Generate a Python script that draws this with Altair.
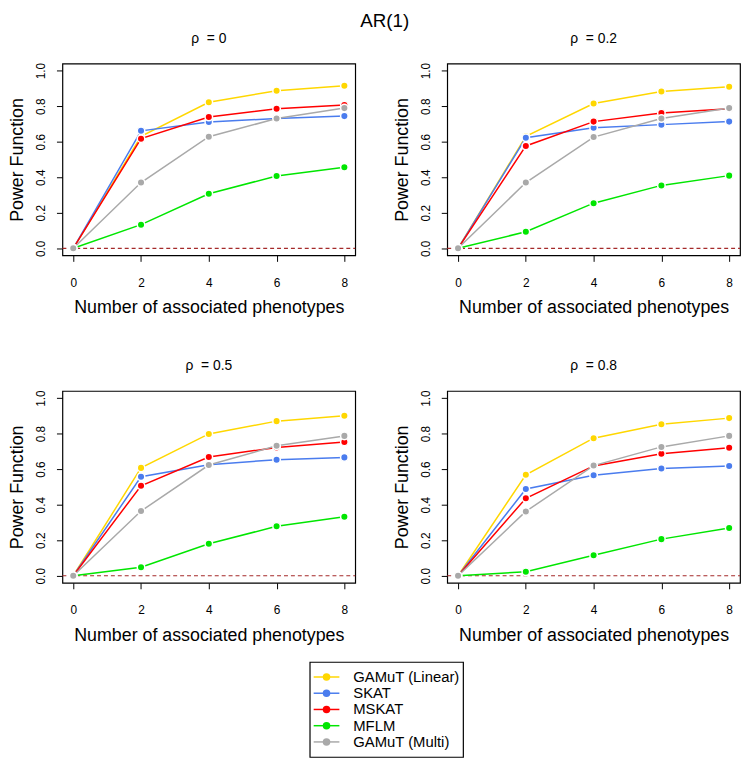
import altair as alt
import pandas as pd

FONT = "Liberation Sans"

series = ["GAMuT (Linear)", "SKAT", "MSKAT", "MFLM", "GAMuT (Multi)"]
colors = ["#FFD700", "#4A7CEE", "#FF0000", "#00E600", "#A9A9A9"]
x_vals = [0, 2, 4, 6, 8]
y_ticks = [0.0, 0.2, 0.4, 0.6, 0.8, 1.0]
rho_labels = ["0", "0.2", "0.5", "0.8"]

rho_0 = {
    "GAMuT (Linear)": [0.0, 0.630, 0.822, 0.887, 0.915],
    "SKAT": [0.0, 0.661, 0.711, 0.730, 0.744],
    "MSKAT": [0.0, 0.617, 0.739, 0.785, 0.806],
    "MFLM": [0.0, 0.133, 0.307, 0.407, 0.456],
    "GAMuT (Multi)": [0.0, 0.370, 0.628, 0.730, 0.789],
}
rho_02 = {
    "GAMuT (Linear)": [0.0, 0.630, 0.815, 0.883, 0.909],
    "SKAT": [0.0, 0.622, 0.678, 0.696, 0.713],
    "MSKAT": [0.0, 0.576, 0.713, 0.761, 0.785],
    "MFLM": [0.0, 0.093, 0.254, 0.354, 0.409],
    "GAMuT (Multi)": [0.0, 0.370, 0.626, 0.730, 0.789],
}
rho_05 = {
    "GAMuT (Linear)": [0.0, 0.607, 0.798, 0.870, 0.900],
    "SKAT": [0.0, 0.557, 0.625, 0.653, 0.666],
    "MSKAT": [0.0, 0.506, 0.668, 0.722, 0.753],
    "MFLM": [0.0, 0.048, 0.180, 0.278, 0.332],
    "GAMuT (Multi)": [0.0, 0.364, 0.623, 0.731, 0.787],
}
rho_08 = {
    "GAMuT (Linear)": [0.0, 0.568, 0.774, 0.852, 0.887],
    "SKAT": [0.0, 0.488, 0.566, 0.603, 0.618],
    "MSKAT": [0.0, 0.436, 0.618, 0.686, 0.720],
    "MFLM": [0.0, 0.022, 0.115, 0.206, 0.269],
    "GAMuT (Multi)": [0.0, 0.362, 0.620, 0.725, 0.787],
}
panels_data = [rho_0, rho_02, rho_05, rho_08]

PW, PH = 296, 194
X_DOMAIN = [-0.32, 8.32]
Y_DOMAIN = [-0.04, 1.04]


def panel(label, data):
    rows = []
    for s in series:
        for xv, yv in zip(x_vals, data[s]):
            rows.append({"x": xv, "power": yv, "series": s})
    df = pd.DataFrame(rows)

    xenc = alt.X(
        "x:Q",
        scale=alt.Scale(domain=X_DOMAIN, nice=False, zero=False),
        axis=alt.Axis(values=x_vals, tickCount=10,
                      title="Number of associated phenotypes",
                      labelPadding=16, titlePadding=11),
    )
    yenc = alt.Y(
        "power:Q",
        scale=alt.Scale(domain=Y_DOMAIN, nice=False, zero=False),
        axis=alt.Axis(values=y_ticks, tickCount=10, format=".1f",
                      title="Power Function",
                      labelPadding=9, titlePadding=8, labelAngle=270,
                      labelAlign="center", labelBaseline="bottom"),
    )
    base = alt.Chart(df)
    series_layers = []
    for s, c in zip(series, colors):
        sub = base.transform_filter(alt.datum.series == s)
        series_layers.append(sub.mark_line(color=c, strokeWidth=1.5))
        series_layers.append(
            sub.mark_point(filled=True, size=58, opacity=1, stroke="white",
                           strokeWidth=1.5, fill=c)
        )
    lines = alt.layer(*series_layers).encode(x=xenc, y=yenc)

    zero_df = pd.DataFrame({"x0": [X_DOMAIN[0]], "x1": [X_DOMAIN[1]],
                            "zero": [0.0]})
    zero_rule = alt.Chart(zero_df).mark_rule(
        color="#A52A2A", strokeDash=[4, 3], strokeWidth=1.2
    ).encode(x="x0:Q", x2="x1:Q", y="zero:Q")

    return alt.layer(zero_rule, lines).properties(
        width=PW, height=PH,
        title=alt.TitleParams(
            "ρ\u00a0 = " + label, fontSize=14, font=FONT,
            fontWeight="normal", frame="group", anchor="middle", offset=17,
            color="black",
        ),
    )


p = [panel(l, d) for l, d in zip(rho_labels, panels_data)]
row1 = alt.hconcat(p[0], p[1], spacing=36)
row2 = alt.hconcat(p[2], p[3], spacing=36)

leg_df = pd.DataFrame({"series": series, "color": colors})
leg_y = alt.Y("series:N", sort=series, axis=None,
              scale=alt.Scale(padding=0.85))
leg_base = alt.Chart(leg_df)
legend = alt.layer(
    leg_base.mark_rule(strokeWidth=1.5).encode(
        x=alt.value(4), x2=alt.value(30), y=leg_y,
        color=alt.Color("color:N", scale=None)),
    leg_base.mark_point(filled=True, size=58, opacity=1).encode(
        x=alt.value(17), y=leg_y,
        fill=alt.Color("color:N", scale=None)),
    leg_base.mark_text(align="left", baseline="middle", fontSize=15,
                       font=FONT, color="black").encode(
        x=alt.value(44), y=leg_y, text="series:N"),
).properties(width=155, height=96)

spacer = alt.Chart(leg_df).mark_point(opacity=0).encode(
    x=alt.value(0), y=alt.value(0)
).properties(width=248, height=10,
             view=alt.ViewBackground(stroke="transparent"))

leg_row = alt.hconcat(spacer, legend, spacing=0)

grid = alt.vconcat(row1, row2, spacing=41)

chart = alt.vconcat(grid, leg_row, spacing=13).properties(
    title=alt.TitleParams("AR(1)", fontSize=19, font=FONT,
                          fontWeight="normal", anchor="middle", offset=0,
                          dx=10, color="black"),
    padding=0,
).configure(font=FONT).configure_view(
    stroke="black", strokeWidth=1.2
).configure_axis(
    grid=False, domain=False, ticks=True, tickColor="black", tickWidth=1,
    tickSize=6, tickOpacity=1, labelFontSize=12, titleFontSize=18,
    labelFont=FONT, titleFont=FONT, titleFontWeight="normal",
    labelColor="black", titleColor="black", labelFlush=False,
    labelOverlap=False,
)

chart.save("out.html", embed_options={"renderer": "svg", "actions": False})
